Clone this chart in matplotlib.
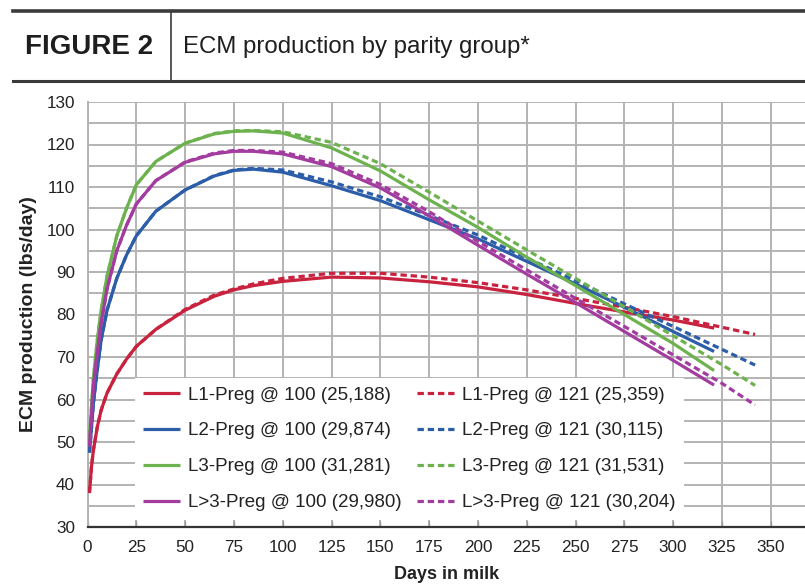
import matplotlib
matplotlib.use("Agg")
import matplotlib.pyplot as plt
from matplotlib import font_manager
from matplotlib.lines import Line2D

# ---------------- data ----------------
days_solid = [1, 2, 3, 5, 7, 10, 15, 20, 25, 35, 50, 65, 75, 85, 100, 125, 150, 175, 200, 225, 250, 275, 300, 321]
days_dash = [1, 2, 3, 5, 7, 10, 15, 20, 25, 35, 50, 65, 75, 85, 100, 125, 150, 175, 200, 225, 250, 275, 300, 325, 342]

l1_100 = [38, 44, 48, 53.5, 57.5, 61.5, 66, 69.5, 72.5, 76.5, 81, 84.3, 85.8, 86.8, 87.8, 88.8, 88.6, 87.7, 86.5, 84.7, 82.6, 80.6, 78.7, 76.8]
l1_121 = [38, 44, 48, 53.5, 57.5, 61.5, 66, 69.5, 72.5, 76.5, 81.2, 84.6, 86.0, 87.2, 88.5, 89.7, 89.7, 88.8, 87.5, 85.8, 83.8, 81.7, 79.5, 77.0, 75.3]
l2_100 = [47.5, 53, 59, 67, 74, 81, 88.5, 94, 98.5, 104.3, 109.3, 112.6, 113.9, 114.2, 113.5, 110.3, 106.8, 102.3, 97.8, 92.5, 87.2, 81.7, 76.0, 71.3]
l2_121 = [47.5, 53, 59, 67, 74, 81, 88.5, 94, 98.5, 104.3, 109.3, 112.7, 114.0, 114.4, 114.0, 111.2, 107.7, 103.3, 98.7, 93.3, 88.0, 82.5, 77.2, 71.8, 68.1]
l3_100 = [50, 58, 65, 74, 81, 89, 98.5, 105, 110.5, 116, 120.3, 122.5, 123.1, 123.2, 122.7, 119.2, 113.8, 107.0, 100.5, 93.5, 86.8, 80.0, 73.2, 66.8]
l3_121 = [50, 58, 65, 74, 81, 89, 98.5, 105, 110.5, 116, 120.3, 122.6, 123.2, 123.3, 123.0, 120.5, 115.5, 108.8, 102.0, 95.2, 88.5, 81.8, 75.0, 68.2, 63.3]
l4_100 = [49, 56, 63, 71, 78, 86, 95, 101, 106, 111.5, 115.8, 117.8, 118.4, 118.4, 117.8, 114.8, 109.8, 103.2, 96.3, 89.5, 82.8, 76.0, 69.2, 63.4]
l4_121 = [49, 56, 63, 71, 78, 86, 95, 101, 106, 111.5, 115.9, 118.0, 118.6, 118.6, 118.2, 115.5, 110.6, 104.2, 97.2, 90.5, 83.8, 77.2, 70.5, 63.8, 58.7]

labels_100 = ["L1-Preg @ 100 (25,188)", "L2-Preg @ 100 (29,874)", "L3-Preg @ 100 (31,281)", "L>3-Preg @ 100 (29,980)"]
labels_121 = ["L1-Preg @ 121 (25,359)", "L2-Preg @ 121 (30,115)", "L3-Preg @ 121 (31,531)", "L>3-Preg @ 121 (30,204)"]
colors = ["#C8223F", "#2B5DA8", "#6DB24F", "#A23C9F"]

x_ticks = [0, 25, 50, 75, 100, 125, 150, 175, 200, 225, 250, 275, 300, 325, 350]
y_ticks = [30, 40, 50, 60, 70, 80, 90, 100, 110, 120, 130]

# ---------------- fonts ----------------
names = {f.name for f in font_manager.fontManager.ttflist}
NARROW = "Liberation Sans Narrow" in names
fam = ["Liberation Sans Narrow", "Liberation Sans", "DejaVu Sans"] if NARROW else ["Liberation Sans", "DejaVu Sans"]
plt.rcParams["font.family"] = fam
TICK_FS = 13.5 if NARROW else 12.3
LEG_FS = 13.5
XL_FS = 13
YL_FS = 14
TITLE_FS = 17.3

W, H = 805, 584
fig = plt.figure(figsize=(W / 100, H / 100), dpi=100)

# axes placement (pixels)
x0, x1 = 87.5, 805
y_top, y_bot = 102, 527
ax = fig.add_axes([x0 / W, 1 - y_bot / H, (x1 - x0) / W, (y_bot - y_top) / H])
px_per_day = 1.952
ax.set_xlim(0, (x1 - x0) / px_per_day)
ax.set_ylim(30, 130)

ax.set_xticks(x_ticks)
ax.set_yticks(y_ticks)
ax.set_yticks(list(range(35, 130, 10)), minor=True)
ax.grid(True, which="major", color="#b3b3b3", lw=1.4, zorder=0)
ax.grid(True, which="minor", axis="y", color="#b3b3b3", lw=1.4, zorder=0)
ax.set_axisbelow(True)
for s in ["top", "right"]:
    ax.spines[s].set_visible(False)
ax.spines["left"].set_color("#b3b3b3")
ax.spines["left"].set_linewidth(1.4)
ax.spines["bottom"].set_color("#333333")
ax.spines["bottom"].set_linewidth(1.6)
ax.tick_params(axis="x", direction="in", length=4, width=1, color="#999999", labelsize=TICK_FS, pad=9, labelcolor="#222222")
ax.tick_params(axis="y", length=0, labelsize=TICK_FS, pad=9, labelcolor="#222222")
ax.tick_params(axis="y", which="minor", length=0)

handles_s, handles_d = [], []
series = [(l1_100, l1_121), (l2_100, l2_121), (l3_100, l3_121), (l4_100, l4_121)]
for (s, d), c, ls_, ld_ in zip(series, colors, labels_100, labels_121):
    h1, = ax.plot(days_solid, s, color=c, lw=2.3, solid_capstyle="butt", label=ls_, zorder=3)
    h2, = ax.plot(days_dash, d, color=c, lw=2.3, dashes=(2.0, 1.2), label=ld_, zorder=3)
    handles_s.append(h1)
    handles_d.append(h2)

leg = ax.legend(handles_s + handles_d, labels_100 + labels_121, ncol=2,
                loc="upper left", bbox_to_anchor=(135 / W, 1 - 378 / H), bbox_transform=fig.transFigure,
                borderaxespad=0, borderpad=0.45, frameon=True, fancybox=False,
                fontsize=LEG_FS, handlelength=1.95, handletextpad=0.42,
                columnspacing=0.85, labelspacing=1.0)
leg.get_frame().set_facecolor("white")
leg.get_frame().set_edgecolor("none")
leg.get_frame().set_alpha(1)
leg.set_zorder(5)
for t in leg.get_texts():
    t.set_color("#222222")

ax.set_xlabel("Days in milk", fontsize=XL_FS, fontweight="bold", labelpad=8, color="#222222")
ax.set_ylabel("ECM production (lbs/day)", fontsize=YL_FS, fontweight="bold", labelpad=7, color="#222222")

# ---------------- header ----------------
def fy(p):
    return 1 - p / H

fig.add_artist(Line2D([13 / W, 1], [fy(11), fy(11)], transform=fig.transFigure, color="#3b3b3b", lw=2.6))
fig.add_artist(Line2D([13 / W, 1], [fy(81), fy(81)], transform=fig.transFigure, color="#3b3b3b", lw=2.2))
fig.add_artist(Line2D([171 / W, 171 / W], [fy(11), fy(81)], transform=fig.transFigure, color="#3b3b3b", lw=1.2))
fig.text(25 / W, fy(47), "FIGURE 2", family=["Liberation Sans", "DejaVu Sans"], fontsize=20, fontweight="bold",
         va="center", ha="left", color="#1e1e1e")
fig.text(183 / W, fy(47), "ECM production by parity group*", fontsize=TITLE_FS, va="center", ha="left", color="#1e1e1e")

fig.savefig("out.png", dpi=100)
